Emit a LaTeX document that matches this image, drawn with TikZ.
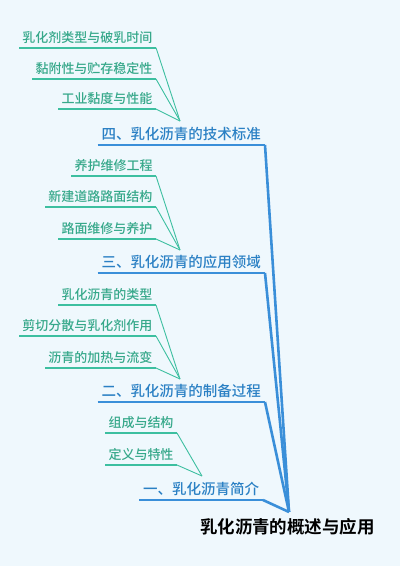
\documentclass[tikz,border=0pt]{standalone}
\usepackage{fontspec}
\setmainfont{Noto Sans CJK SC}[BoldFont={Noto Sans CJK SC Bold}]
\newfontfamily\medfont{Noto Sans CJK SC Medium}
\definecolor{bgc}{HTML}{EFF8FD}
\definecolor{mainline}{HTML}{3A8FD9}
\definecolor{branchtxt}{HTML}{2A80C4}
\definecolor{subline}{HTML}{3DBFA0}
\definecolor{subtxt}{HTML}{36A88A}
\tikzset{
  childnode/.style={anchor=south east, inner xsep=3.5pt, inner ysep=5.5pt, text depth=0pt, outer sep=0pt,
    font=\medfont\fontsize{13pt}{13pt}\selectfont, text=subtxt},
  branchnode/.style={anchor=south east, inner xsep=4pt, inner ysep=5.5pt, text depth=0pt, outer sep=0pt,
    font=\medfont\fontsize{14.5pt}{14.5pt}\selectfont, text=branchtxt},
  subunder/.style={draw=subline, line width=2pt},
  subdiag/.style={draw=subline, line width=0.9pt},
  mainunder/.style={draw=mainline, line width=2pt},
  maindiag/.style={draw=mainline, line width=2.6pt, line join=round},
}
\begin{document}
\begin{tikzpicture}[x=1pt,y=-1pt]
\fill[bgc] (0,0) rectangle (400,566);
\useasboundingbox (0,0) rectangle (400,566);

% root
\node[font=\fontsize{17.5pt}{17.5pt}\selectfont\bfseries, text=black, inner sep=0pt] (root) at (287.5,527) {乳化沥青的概述与应用};
\coordinate (hub) at (289,512);

% branch nodes
\node[branchnode] (b4) at (265,145) {四、乳化沥青的技术标准};
\node[branchnode] (b3) at (265,273) {三、乳化沥青的应用领域};
\node[branchnode] (b2) at (265,402) {二、乳化沥青的制备过程};
\node[branchnode] (b1) at (263,500) {一、乳化沥青简介};

% convergence points
\coordinate (j4) at (180,121);
\coordinate (j3) at (180,250);
\coordinate (j2) at (180,379);
\coordinate (j1) at (202,476);

% children of 4
\node[childnode] (c41) at (156,47.7) {乳化剂类型与破乳时间};
\node[childnode] (c42) at (156,79) {黏附性与贮存稳定性};
\node[childnode] (c43) at (156,109) {工业黏度与性能};
% children of 3
\node[childnode] (c31) at (156,176) {养护维修工程};
\node[childnode] (c32) at (156,207) {新建道路路面结构};
\node[childnode] (c33) at (156,239) {路面维修与养护};
% children of 2
\node[childnode] (c21) at (156,305) {乳化沥青的类型};
\node[childnode] (c22) at (156,336) {剪切分散与乳化剂作用};
\node[childnode] (c23) at (156,368) {沥青的加热与流变};
% children of 1
\node[childnode] (c11) at (177,433) {组成与结构};
\node[childnode] (c12) at (177,465) {定义与特性};

% child connectors
\foreach \n/\j in {c41/j4,c42/j4,c43/j4,c31/j3,c32/j3,c33/j3,c21/j2,c22/j2,c23/j2,c11/j1,c12/j1}{
  \path[subunder] (\n.south west) -- (\n.south east);
  \path[subdiag] (\n.south east) -- (\j);
}

% main connectors
\foreach \b in {b4,b3,b2,b1}{
  \path[mainunder] (\b.south west) -- (\b.south east);
  \path[maindiag] (\b.south east) -- (hub);
}
\end{tikzpicture}
\end{document}
